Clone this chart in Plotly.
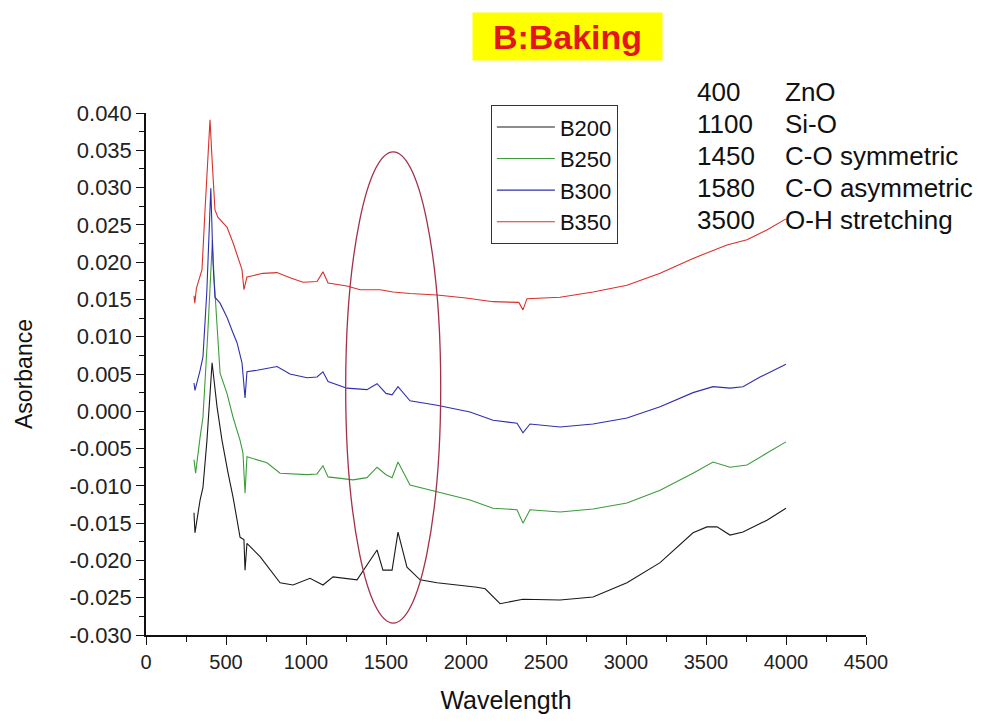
import plotly.graph_objects as go

# FTIR absorbance spectra of the baked samples
b200_x = [300, 306, 338, 356, 381, 413, 444, 475, 513, 544, 588, 612, 619, 631, 713, 794, 838,
          919, 1025, 1106, 1169, 1319, 1381, 1444, 1481, 1538, 1575, 1631, 1713, 1819, 2069, 2120,
          2213, 2356, 2588, 2794, 3006, 3213, 3419, 3506, 3569, 3650, 3731, 3881, 4000]
b200_y = [-0.0136, -0.0163, -0.0119, -0.0102, -0.0039, 0.0065, 0.0006, -0.0039, -0.0083, -0.0115,
          -0.0169, -0.0172, -0.0213, -0.0177, -0.0195, -0.0217, -0.0230, -0.0233, -0.0224, -0.0233,
          -0.0222, -0.0226, -0.0206, -0.0186, -0.0213, -0.0213, -0.0162, -0.0209, -0.0226, -0.0230,
          -0.0236, -0.0238, -0.0258, -0.0252, -0.0253, -0.0249, -0.0230, -0.0203, -0.0163, -0.0155,
          -0.0155, -0.0166, -0.0162, -0.0146, -0.0130]

b250_x = [300, 310, 338, 356, 385, 415, 425, 444, 463, 506, 544, 588, 606, 619, 631, 756, 838,
          1006, 1069, 1106, 1138, 1294, 1381, 1444, 1500, 1538, 1575, 1650, 1819, 2025, 2169, 2319,
          2356, 2400, 2588, 2794, 3006, 3213, 3419, 3544, 3650, 3756, 3881, 4000]
b250_y = [-0.0065, -0.0083, -0.0035, -0.0008, 0.0100, 0.0230, 0.0180, 0.0109, 0.0051, 0.0024,
          -0.0008, -0.0039, -0.0056, -0.0110, -0.0061, -0.0069, -0.0083, -0.0085, -0.0084, -0.0073,
          -0.0088, -0.0092, -0.0089, -0.0075, -0.0085, -0.0089, -0.0068, -0.0099, -0.0108, -0.0119,
          -0.0130, -0.0132, -0.0150, -0.0132, -0.0135, -0.0131, -0.0123, -0.0106, -0.0083, -0.0068,
          -0.0075, -0.0072, -0.0056, -0.0041]

b300_x = [300, 306, 338, 356, 380, 405, 419, 431, 463, 506, 544, 569, 600, 619, 631, 694, 819,
          900, 1006, 1069, 1106, 1138, 1256, 1381, 1444, 1500, 1538, 1575, 1650, 1819, 2025, 2169,
          2319, 2356, 2400, 2588, 2794, 3006, 3213, 3419, 3544, 3650, 3731, 3838, 4000]
b300_y = [0.0038, 0.0028, 0.0055, 0.0073, 0.0160, 0.0299, 0.0199, 0.0153, 0.0145, 0.0126, 0.0105,
          0.0092, 0.0065, 0.0018, 0.0053, 0.0055, 0.0060, 0.0050, 0.0045, 0.0046, 0.0053, 0.0040,
          0.0031, 0.0029, 0.0037, 0.0024, 0.0022, 0.0033, 0.0014, 0.0008, -0.0001, -0.0012, -0.0016,
          -0.0029, -0.0017, -0.0021, -0.0017, -0.0009, 0.0006, 0.0025, 0.0033, 0.0031, 0.0033,
          0.0046, 0.0063]

b350_x = [300, 305, 315, 330, 350, 369, 385, 400, 415, 431, 450, 506, 544, 575, 600, 612, 631,
          731, 819, 900, 981, 1069, 1106, 1138, 1256, 1338, 1463, 1544, 1650, 1819, 2000, 2169,
          2330, 2356, 2381, 2588, 2794, 3006, 3213, 3419, 3631, 3756, 3880, 4000]
b350_y = [0.0155, 0.0145, 0.0165, 0.0175, 0.0190, 0.0270, 0.0340, 0.0391, 0.0330, 0.0270, 0.0260,
          0.0247, 0.0226, 0.0207, 0.0190, 0.0163, 0.0180, 0.0185, 0.0186, 0.0179, 0.0173, 0.0174,
          0.0187, 0.0172, 0.0168, 0.0163, 0.0163, 0.0160, 0.0158, 0.0156, 0.0152, 0.0147, 0.0146,
          0.0136, 0.0151, 0.0153, 0.0160, 0.0169, 0.0185, 0.0205, 0.0223, 0.0230, 0.0243, 0.0258]

series_names = ["B200", "B250", "B300", "B350"]
series_colors = ["#1a1a1a", "#3c9c3c", "#2f2fae", "#d9302c"]

# band assignments listed beside the plot
band_positions = ["400", "1100", "1450", "1580", "3500"]
band_labels = ["ZnO", "Si-O", "C-O symmetric", "C-O asymmetric", "O-H stretching"]

x_ticks = [0, 500, 1000, 1500, 2000, 2500, 3000, 3500, 4000, 4500]
y_ticks = [0.040, 0.035, 0.030, 0.025, 0.020, 0.015, 0.010, 0.005, 0.000,
           -0.005, -0.010, -0.015, -0.020, -0.025, -0.030]
y_tick_text = ["0.040", "0.035", "0.030", "0.025", "0.020", "0.015", "0.010", "0.005", "0.000",
               "-0.005", "-0.010", "-0.015", "-0.020", "-0.025", "-0.030"]

# highlighted C-O region (centre and semi-axes in data units)
ellipse_cx, ellipse_cy = 1545, 0.0032
ellipse_rx, ellipse_ry = 297, 0.0316

FONT = "Arial, Liberation Sans, sans-serif"

fig = go.Figure()
for name, color, xs, ys in zip(series_names, series_colors,
                               [b200_x, b250_x, b300_x, b350_x],
                               [b200_y, b250_y, b300_y, b350_y]):
    fig.add_trace(go.Scatter(x=xs, y=ys, mode="lines", name=name,
                             line=dict(color=color, width=1.1)))

fig.add_shape(type="circle", xref="x", yref="y",
              x0=ellipse_cx - ellipse_rx, x1=ellipse_cx + ellipse_rx,
              y0=ellipse_cy - ellipse_ry, y1=ellipse_cy + ellipse_ry,
              line=dict(color="#a3304a", width=1.3))

# title badge
fig.add_annotation(text="<b>B:Baking</b>", xref="paper", yref="paper",
                   x=0.586, y=1.146, xanchor="center", yanchor="middle",
                   showarrow=False, bgcolor="#ffff00", width=187, height=45,
                   font=dict(family=FONT, size=34, color="#e3141c"))

row_y = [1.040, 0.979, 0.918, 0.856, 0.795]
for pos, lab, yy in zip(band_positions, band_labels, row_y):
    fig.add_annotation(text=pos, xref="paper", yref="paper", x=0.7625, y=yy,
                       xanchor="left", yanchor="middle", showarrow=False,
                       font=dict(family=FONT, size=26, color="#111"))
    fig.add_annotation(text=lab, xref="paper", yref="paper", x=0.885, y=yy,
                       xanchor="left", yanchor="middle", showarrow=False,
                       font=dict(family=FONT, size=26, color="#111"))

fig.update_layout(
    width=993, height=722,
    margin=dict(l=146, r=127, t=113, b=87),
    paper_bgcolor="white", plot_bgcolor="white",
    font=dict(family=FONT, size=16, color="#222"),
    showlegend=True,
    legend=dict(x=0.479, y=1.015, xanchor="left", yanchor="top",
                bordercolor="#333", borderwidth=1, bgcolor="white",
                font=dict(family=FONT, size=22, color="#111"),
                tracegroupgap=0, itemwidth=58),
)

fig.update_xaxes(range=[0, 4500], tickmode="array", tickvals=x_ticks,
                 ticks="outside", ticklen=8, tickwidth=1.3, tickcolor="#111",
                 showline=True, linecolor="#111", linewidth=1.5, showgrid=False,
                 zeroline=False, tickfont=dict(size=20, color="#222"),
                 minor=dict(tickvals=[250, 750, 1250, 1750, 2250, 2750, 3250, 3750, 4250],
                            ticks="outside", ticklen=5, tickcolor="#111", tickwidth=1.2),
                 title=dict(text="Wavelength", font=dict(size=25, color="#111"), standoff=20))

fig.update_yaxes(range=[-0.030, 0.040], tickmode="array", tickvals=y_ticks, ticktext=y_tick_text,
                 ticks="outside", ticklen=8, tickwidth=1.3, tickcolor="#111",
                 showline=True, linecolor="#111", linewidth=1.5, showgrid=False,
                 zeroline=False, tickfont=dict(size=22, color="#222"),
                 minor=dict(tickvals=[v + 0.0025 for v in y_ticks[1:]],
                            ticks="outside", ticklen=5, tickcolor="#111", tickwidth=1.2),
                 title=dict(text="Asorbance", font=dict(size=23, color="#111"), standoff=30))

fig.write_html("out.html")
